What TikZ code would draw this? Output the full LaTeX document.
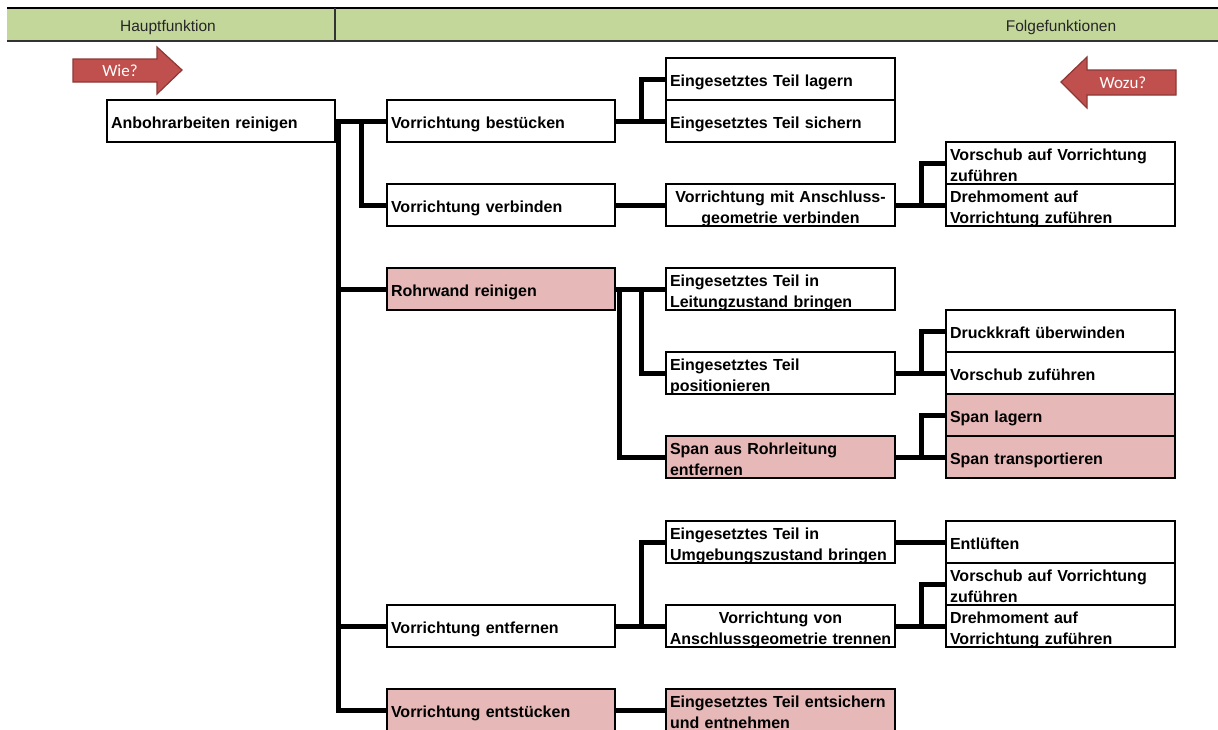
\documentclass[tikz,border=0pt]{standalone}
\usepackage{fontspec}
\setmainfont{Liberation Sans}
\newfontfamily\arrowfont{Carlito}
\usetikzlibrary{shapes.arrows}
\definecolor{hdrgreen}{RGB}{196,215,155}
\definecolor{boxpink}{RGB}{230,184,183}
\definecolor{arrowred}{RGB}{192,80,77}
\definecolor{arrowedge}{RGB}{140,56,54}
\begin{document}
\begin{tikzpicture}[x=1pt,y=-1pt,
  fbox/.style={draw=black,line width=1.8pt,fill=white,minimum height=42pt,
    text width=221pt,inner xsep=4pt,inner ysep=-2pt,align=left,
    font=\fontsize{16}{21}\selectfont\bfseries,
    execute at begin node={\rule{0pt}{19pt}},
    execute at end node={\rule[-4pt]{0pt}{4pt}}},
  pinkbox/.style={fbox,fill=boxpink},
  cbox/.style={fbox,align=center},
  conn/.style={line width=5pt,black},
  hdrtext/.style={font=\fontsize{15.5}{18}\selectfont,text=black!85},
  arrowtext/.style={font=\arrowfont\fontsize{17}{20}\selectfont,text=white}
]
\clip (0,0) rectangle (1218,729);
\fill[white] (0,0) rectangle (1218,729);
% header
\fill[hdrgreen] (7,8) rectangle (1218,41);
\draw[line width=2pt,black] (7,8) -- (1218,8);
\draw[line width=1.5pt,black!80] (7,41) -- (1218,41);
\draw[line width=1.5pt,black!80] (335,8) -- (335,41);
\node[hdrtext] (hh) at (168,27) {Hauptfunktion};
\node[hdrtext] (hf) at (1061,27) {Folgefunktionen};
% arrows
\draw[fill=arrowred,draw=arrowedge,line width=1.2pt] (73,59) -- (157,59) -- (157,47) -- (182,70) -- (157,94) -- (157,82) -- (73,82) -- cycle;
\node[arrowtext] (wie) at (120,71) {Wie?};
\draw[fill=arrowred,draw=arrowedge,line width=1.2pt] (1176,70) -- (1087,70) -- (1087,57) -- (1061,82) -- (1087,108) -- (1087,95) -- (1176,95) -- cycle;
\node[arrowtext] (wozu) at (1123,83) {Wozu?};
% level 0
\node[fbox,text width=220pt] (a0) at (221,121) {Anbohrarbeiten reinigen};
% level 1
\node[fbox,text width=220pt] (best) at (501,121) {Vorrichtung bestücken};
\node[fbox,text width=220pt] (verb) at (501,205) {Vorrichtung verbinden};
\node[pinkbox,text width=220pt] (rohr) at (501,289) {Rohrwand reinigen};
\node[fbox,text width=220pt] (entf) at (501,626) {Vorrichtung entfernen};
\node[pinkbox,text width=220pt] (ents) at (501,710) {Vorrichtung entstücken};
% level 2
\node[fbox] (lag) at (780.5,79) {Eingesetztes Teil lagern};
\node[fbox] (sich) at (780.5,121) {Eingesetztes Teil sichern};
\node[cbox] (mitan) at (780.5,205) {Vorrichtung mit Anschluss-\\geometrie verbinden};
\node[fbox] (leit) at (780.5,289) {Eingesetztes Teil in\\Leitungzustand bringen};
\node[fbox] (pos) at (780.5,373) {Eingesetztes Teil\\positionieren};
\node[pinkbox] (spanaus) at (780.5,457) {Span aus Rohrleitung\\entfernen};
\node[fbox] (umg) at (780.5,542) {Eingesetztes Teil in\\\makebox[0pt][l]{Umgebungszustand bringen}};
\node[cbox] (tren) at (780.5,626) {Vorrichtung von\\\makebox[\linewidth]{Anschlussgeometrie trennen}};
\node[pinkbox] (entsi) at (780.5,710) {\makebox[0pt][l]{Eingesetztes Teil entsichern}\\und entnehmen};
% level 3
\node[fbox] (vs1) at (1060.5,163) {Vorschub auf Vorrichtung\\zuführen};
\node[fbox] (dm1) at (1060.5,205) {Drehmoment auf\\Vorrichtung zuführen};
\node[fbox] (druck) at (1060.5,331) {Druckkraft überwinden};
\node[fbox] (vsz) at (1060.5,373) {Vorschub zuführen};
\node[pinkbox] (spl) at (1060.5,415) {Span lagern};
\node[pinkbox] (spt) at (1060.5,457) {Span transportieren};
\node[fbox] (entl) at (1060.5,542) {Entlüften};
\node[fbox] (vs2) at (1060.5,584) {Vorschub auf Vorrichtung\\zuführen};
\node[fbox] (dm2) at (1060.5,626) {Drehmoment auf\\Vorrichtung zuführen};
% connectors level 0 -> 1
\draw[conn] (a0.east) -- (best.west);
\draw[conn] ([xshift=3pt]a0.east) |- (rohr.west);
\draw[conn] ([xshift=3pt]a0.east) |- (entf.west);
\draw[conn] ([xshift=3pt]a0.east) |- (ents.west);
\draw[conn] ([xshift=26pt]a0.east) |- (verb.west);
% level 1 -> 2
\draw[conn] (best.east) -- (sich.west);
\draw[conn] ([xshift=26pt]best.east) |- (lag.west);
\draw[conn] (verb.east) -- (mitan.west);
\draw[conn] (rohr.east) -- (leit.west);
\draw[conn] ([xshift=4pt]rohr.east) |- (spanaus.west);
\draw[conn] ([xshift=26pt]rohr.east) |- (pos.west);
\draw[conn] (entf.east) -- (tren.west);
\draw[conn] ([xshift=26pt]entf.east) |- (umg.west);
\draw[conn] (ents.east) -- (entsi.west);
% level 2 -> 3
\draw[conn] (mitan.east) -- (dm1.west);
\draw[conn] ([xshift=26pt]mitan.east) |- (vs1.west);
\draw[conn] (pos.east) -- (vsz.west);
\draw[conn] ([xshift=26pt]pos.east) |- (druck.west);
\draw[conn] (spanaus.east) -- (spt.west);
\draw[conn] ([xshift=26pt]spanaus.east) |- (spl.west);
\draw[conn] (umg.east) -- (entl.west);
\draw[conn] (tren.east) -- (dm2.west);
\draw[conn] ([xshift=26pt]tren.east) |- (vs2.west);
\end{tikzpicture}
\end{document}
